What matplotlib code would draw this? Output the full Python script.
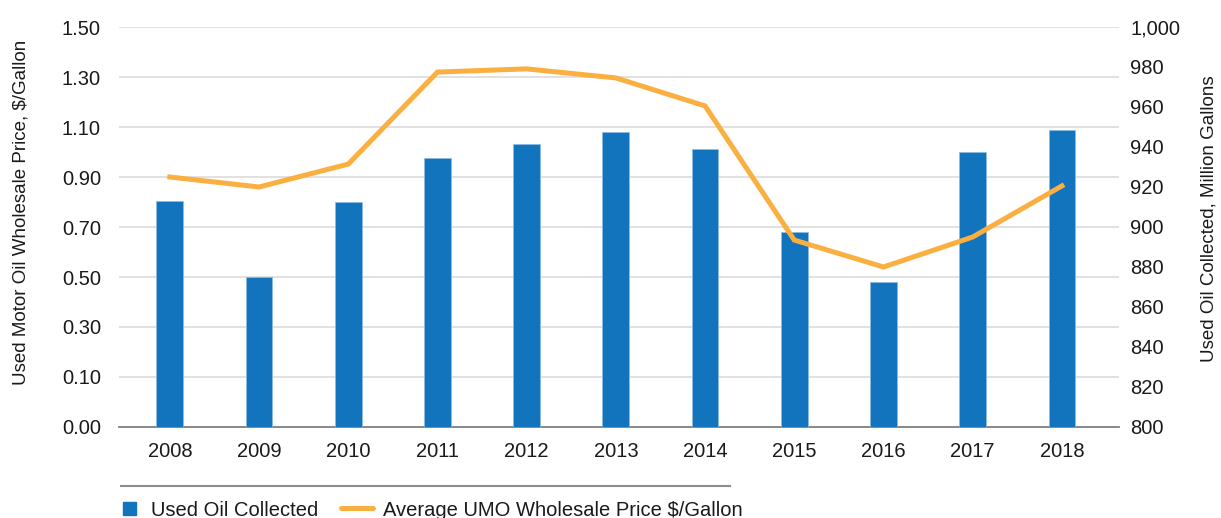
import matplotlib
matplotlib.use('Agg')
import matplotlib.pyplot as plt
from matplotlib.lines import Line2D
from matplotlib.patches import Rectangle
import numpy as np

plt.rcParams['font.family'] = ['Liberation Sans', 'DejaVu Sans']

# data
years = ['2008', '2009', '2010', '2011', '2012', '2013', '2014', '2015', '2016', '2017', '2018']
oil_collected = [913, 875, 912.5, 934.5, 941.5, 947.5, 939, 897.5, 872.5, 937.5, 948.5]  # million gallons
umo_price = [0.9375, 0.90, 0.986, 1.331, 1.343, 1.309, 1.204, 0.701, 0.60, 0.7125, 0.904]  # $/gallon (axis units)

left_ticklabels = ['0.00', '0.10', '0.30', '0.50', '0.70', '0.90', '1.10', '1.30', '1.50']
right_ticks = list(range(800, 1001, 20))

bar_color = '#1174BC'
line_color = '#FAAF40'
text_color = '#1A1A1A'

W, H = 1221, 518
fig = plt.figure(figsize=(W / 100, H / 100), dpi=100)

def fx(x):
    return x / W

def fy(y):
    return 1 - y / H

rect = [fx(119), fy(427), fx(1119) - fx(119), fy(27) - fy(427)]
ax = fig.add_axes(rect)
x = np.arange(len(years))

# left axis: gridlines and price labels
ax.set_ylim(0, 1.5)
ax.set_yticks(np.linspace(0, 1.5, 9))
ax.set_yticklabels(left_ticklabels)
ax.grid(axis='y', color='#D9D9D9', linewidth=1.1)
ax.set_axisbelow(True)
ax.set_xlim(-0.57, 10.64)
ax.set_xticks(x)
ax.set_xticklabels(years)
for s in ['top', 'left', 'right']:
    ax.spines[s].set_visible(False)
ax.spines['bottom'].set_color('#808080')
ax.spines['bottom'].set_linewidth(1.3)
ax.tick_params(axis='y', length=0, pad=13, labelsize=14.5, labelcolor=text_color)
ax.tick_params(axis='x', length=0, pad=11, labelsize=14.5, labelcolor=text_color)
ax.set_ylabel('Used Motor Oil Wholesale Price, $/Gallon', fontsize=13.5, color=text_color)
ax.yaxis.set_label_coords(-0.089, 0.5375)

# right axis: bars
ax2 = ax.twinx()
ax2.bar(x, oil_collected, width=0.30, color=bar_color, edgecolor='#8FBCE3', linewidth=0.5)
ax2.set_ylim(800, 1000)
ax2.set_yticks(right_ticks)
ax2.set_yticklabels([f'{v:,}' for v in right_ticks])
for s in ax2.spines.values():
    s.set_visible(False)
ax2.tick_params(axis='y', length=0, pad=8, labelsize=14.5, labelcolor=text_color)
ax2.set_ylabel('Used Oil Collected, Million Gallons', fontsize=13.5, color=text_color)
ax2.yaxis.set_label_coords(1.081, 0.52)

# price line drawn on top of the bars, same scale as the left axis
ax3 = ax.twinx()
ax3.plot(x, umo_price, color=line_color, linewidth=3.6, solid_joinstyle='miter')
ax3.set_ylim(ax.get_ylim())
ax3.set_yticks([])
for s in ax3.spines.values():
    s.set_visible(False)

# legend below the chart
fig.add_artist(Line2D([fx(121), fx(730)], [fy(486), fy(486)], color='#8C8C8C', linewidth=1.5))
fig.add_artist(Rectangle((fx(123), fy(515)), 13 / W, 13 / H, color=bar_color))
fig.add_artist(Line2D([fx(341), fx(373)], [fy(508), fy(508)], color=line_color,
                      linewidth=3.6, solid_capstyle='round'))
fig.text(fx(151), fy(516), 'Used Oil Collected', fontsize=14.5, color=text_color, va='baseline')
fig.text(fx(383), fy(516), 'Average UMO Wholesale Price $/Gallon', fontsize=14.5,
         color=text_color, va='baseline')

fig.savefig('out.png', dpi=100)
plt.close(fig)
